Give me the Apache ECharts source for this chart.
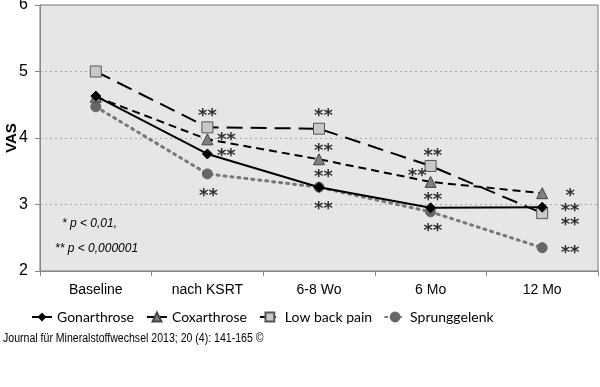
<!DOCTYPE html>
<html><head><meta charset="utf-8">
<script src="https://cdn.jsdelivr.net/npm/echarts@6/dist/echarts.min.js"></script>
<style>html,body{margin:0;padding:0;background:#fff}#c{width:600px;height:387px}</style>
</head><body><div id="c"></div>
<script>
const categories = ['Baseline', 'nach KSRT', '6-8 Wo', '6 Mo', '12 Mo'];
const gonarthrose = [4.63, 3.76, 3.26, 2.95, 2.96];
const coxarthrose = [4.62, 3.98, 3.68, 3.34, 3.17];
const lowBackPain = [5.0, 4.16, 4.14, 3.58, 2.87];
const sprunggelenk = [4.47, 3.46, 3.26, 2.89, 2.35];
const yTicks = [2, 3, 4, 5, 6];
const yTitle = 'VAS';
// significance markers: [category position, value, text]
const stars = [
  [1.0, 4.39, '**'], [1.17, 4.02, '**'], [1.17, 3.78, '**'], [1.01, 3.18, '**'],
  [2.04, 4.38, '**'], [2.04, 3.86, '**'], [2.04, 3.47, '**'], [2.04, 2.99, '**'],
  [3.02, 3.79, '**'], [2.88, 3.49, '**'], [3.02, 3.13, '**'], [3.02, 2.65, '**'],
  [4.25, 3.19, '*'], [4.25, 2.95, '**'], [4.25, 2.75, '**'], [4.25, 2.32, '**']
];
const notes = ['* p < 0,01,', '** p < 0,000001'];
const footer = 'Journal für Mineralstoffwechsel 2013; 20 (4): 141-165 ©';

const chart = echarts.init(document.getElementById('c'), null, {renderer: 'canvas'});
const font = 'Liberation Sans, Arial, sans-serif';
chart.setOption({
  animation: false,
  backgroundColor: '#fff',
  textStyle: {fontFamily: font},
  grid: {left: 40, right: 2, top: 5, bottom: 116, outerBoundsMode: 'none', containLabel: false,
    show: true, backgroundColor: '#e6e6e6', borderColor: '#777', borderWidth: 1},
  xAxis: [{
    type: 'category', data: categories, boundaryGap: true,
    axisLine: {lineStyle: {color: '#888', width: 1}},
    axisTick: {show: true, alignWithLabel: false, length: 5, lineStyle: {color: '#888'}},
    axisLabel: {color: '#000', fontSize: 14, margin: 12, fontFamily: font}
  }, {
    type: 'value', min: -0.5, max: 4.5, show: false
  }],
  yAxis: {
    type: 'value', min: yTicks[0], max: yTicks[yTicks.length - 1], interval: 1,
    axisLine: {show: true, onZero: false, lineStyle: {color: '#888'}},
    axisTick: {show: true, length: 5, lineStyle: {color: '#888'}},
    axisLabel: {color: '#000', fontSize: 16, margin: 12, fontFamily: font},
    splitLine: {show: true, lineStyle: {color: '#aaa', type: [2, 3], width: 1}}
  },
  legend: {
    bottom: 58, left: 26, itemGap: 12, itemWidth: 20, itemHeight: 11,
    textStyle: {color: '#000', fontSize: 14, fontFamily: 'Lato, sans-serif'},
    data: ['Gonarthrose', 'Coxarthrose', 'Low back pain', 'Sprunggelenk']
  },
  graphic: [
    {type: 'text', x: 12, y: 138, rotation: Math.PI / 2,
      style: {text: yTitle, font: 'bold 15px Liberation Sans, Arial', fill: '#000', align: 'center', verticalAlign: 'middle'}},
    {type: 'text', left: 62, top: 218, style: {text: notes[0], font: 'italic 12px Liberation Sans, Arial', fill: '#000'}},
    {type: 'text', left: 55, top: 243, style: {text: notes[1], font: 'italic 12px Liberation Sans, Arial', fill: '#000'}},
    {type: 'text', x: 3, y: 333, scaleX: 0.88, style: {text: footer, font: '12px Liberation Sans, Arial', fill: '#000'}}
  ],
  series: [
    {name: 'Sprunggelenk', type: 'line', data: sprunggelenk, symbol: 'circle', symbolSize: 10, z: 2,
      lineStyle: {color: '#777', width: 3, type: [2, 5], cap: 'round'},
      itemStyle: {color: '#666', borderColor: '#666', borderWidth: 1}},
    {name: 'Low back pain', type: 'line', data: lowBackPain, symbol: 'rect', symbolSize: 11, z: 3,
      lineStyle: {color: '#000', width: 2, type: [16, 8]},
      itemStyle: {color: '#c8c8c8', borderColor: '#555', borderWidth: 1}},
    {name: 'Coxarthrose', type: 'line', data: coxarthrose, symbol: 'triangle', symbolSize: 11, z: 4,
      lineStyle: {color: '#000', width: 2, type: [8, 5]},
      itemStyle: {color: '#808080', borderColor: '#444', borderWidth: 1}},
    {name: 'Gonarthrose', type: 'line', data: gonarthrose, symbol: 'diamond', symbolSize: 10, z: 5,
      lineStyle: {color: '#000', width: 2},
      itemStyle: {color: '#000', borderColor: '#000'}},
    {name: 'stars', type: 'scatter', xAxisIndex: 1, symbolSize: 0, z: 6, silent: true,
      data: stars.map(s => ({value: [s[0], s[1]], text: s[2]})),
      label: {show: true, position: 'inside', formatter: p => p.data.text,
        color: '#000', fontSize: 18, fontWeight: 'bold', fontFamily: 'DejaVu Sans, sans-serif', offset: [0, 4]}}
  ]
});
</script></body></html>
